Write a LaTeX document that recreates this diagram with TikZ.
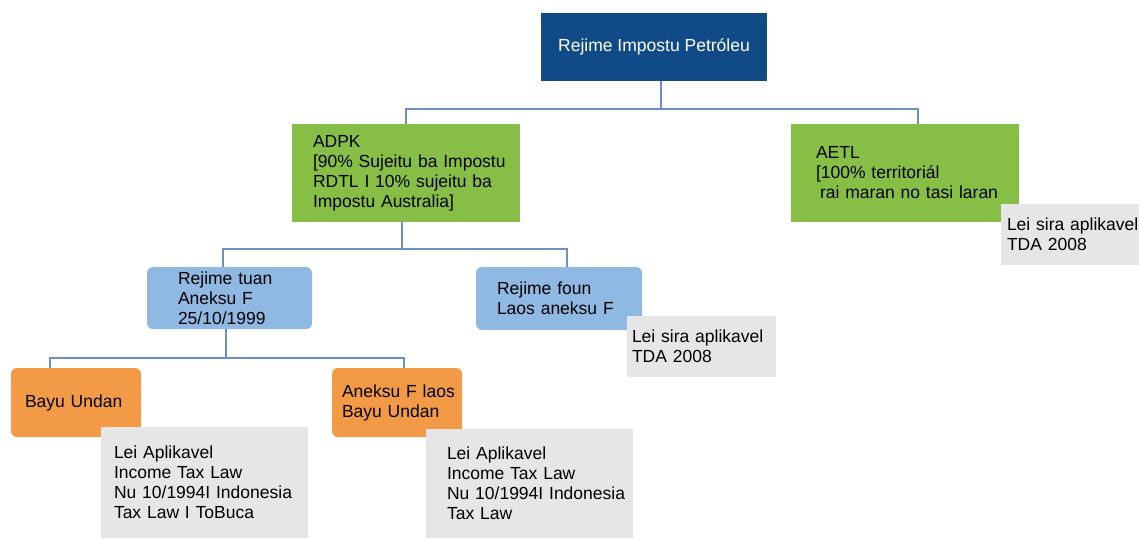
\documentclass[tikz,border=0pt]{standalone}
\usepackage{fontspec}
\setmainfont{Liberation Sans}
\usepackage{xcolor}

\begin{document}
\begin{tikzpicture}[x=1pt,y=-1pt,
  base/.style={font=\fontsize{17.5}{20}\selectfont,inner sep=0pt},
  box/.style n args={3}{base,minimum width=#1,text width=#1,minimum height=#2,
    execute at begin node={\leftskip=#3}},
  gbox/.style={fill=leafgreen},
  bbox/.style={fill=skyblue,rounded corners=6pt},
  obox/.style={fill=tangerine,rounded corners=6pt},
  lbox/.style={fill=paper},
  link/.style={draw=linkblue,line width=1.2pt}]
\definecolor{navy}{HTML}{114B87}
\definecolor{leafgreen}{HTML}{87BE46}
\definecolor{skyblue}{HTML}{8FB8E3}
\definecolor{tangerine}{HTML}{F39A47}
\definecolor{paper}{HTML}{E6E6E6}
\definecolor{linkblue}{HTML}{6E8FBF}
\useasboundingbox (0,0) rectangle (1139,538);
% boxes
\node [base,fill=navy,text=white,minimum width=226pt,minimum height=68pt] (top) at (654,47) {Rejime Impostu Petróleu};
\node [gbox,box={228pt}{98pt}{21pt}] (adpk) at (406,173) {ADPK\\{}[90\% Sujeitu ba Impostu\\RDTL I 10\% sujeitu ba\\Impostu Australia]};
\node [gbox,box={228pt}{98pt}{25pt}] (aetl) at (905,173) {AETL\\{}[100\% territoriál\\\hspace*{4pt}rai maran no tasi laran};
\node [lbox,box={138pt}{61pt}{6pt}] (tdaright) at (1070,234.5) {Lei sira aplikavel\\TDA 2008};
\node [bbox,box={165pt}{62pt}{31pt}] (tuan) at (229.5,298) {Rejime tuan\\Aneksu F\\25/10/1999};
\node [bbox,box={166pt}{63pt}{21pt}] (foun) at (559,298.5) {Rejime foun\\Laos aneksu F};
\node [lbox,box={149pt}{61pt}{5pt}] (tdamid) at (701.5,346.5) {Lei sira aplikavel\\TDA 2008};
\node [obox,box={130pt}{69pt}{14pt}] (bayu) at (76,402.5) {Bayu Undan};
\node [obox,box={130pt}{69pt}{10pt}] (aneksu) at (397,402.5) {Aneksu F laos\\Bayu Undan};
\node [lbox,box={207pt}{111pt}{13pt}] (leibayu) at (204.5,482.5) {Lei Aplikavel\\Income Tax Law\\Nu 10/1994I Indonesia\\Tax Law I ToBuca};
\node [lbox,box={207pt}{109pt}{21pt}] (leianeksu) at (529.5,483.5) {Lei Aplikavel\\Income Tax Law\\Nu 10/1994I Indonesia\\Tax Law};
% connectors
\coordinate (j1) at (661,109);
\coordinate (j2) at (402,249);
\coordinate (j3) at (226,358);
\draw [link] (top.south -| j1) -- (j1);
\draw [link] (adpk.north) |- (j1) -| ([xshift=13pt]aetl.north);
\draw [link] (adpk.south -| j2) -- (j2);
\draw [link] ([xshift=-6.5pt]tuan.north) |- (j2) -| ([xshift=8pt]foun.north);
\draw [link] (tuan.south -| j3) -- (j3);
\draw [link] ([xshift=-26pt]bayu.north) |- (j3) -| ([xshift=7pt]aneksu.north);
\end{tikzpicture}
\end{document}
